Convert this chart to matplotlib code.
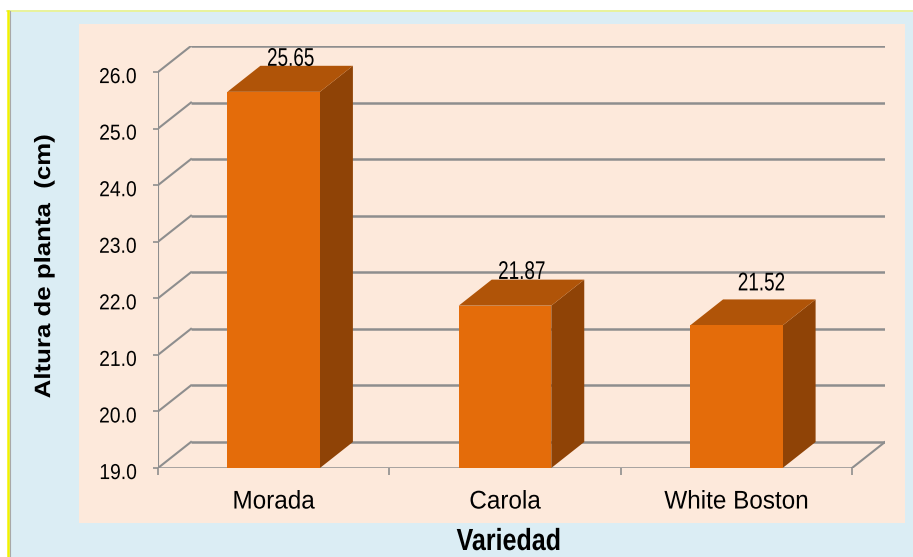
import matplotlib.pyplot as plt
from matplotlib.patches import Rectangle, Polygon
from matplotlib.lines import Line2D
from matplotlib.patheffects import AbstractPathEffect
from matplotlib.transforms import Affine2D, ScaledTranslation

variedades = ["Morada", "Carola", "White Boston"]
altura = [25.65, 21.87, 21.52]
yticks = [19, 20, 21, 22, 23, 24, 25, 26]

front = "#E46C0A"
top = "#B05408"
side = "#8F4306"
grid = "#8E8E8E"

plt.rcParams['font.family'] = ['Liberation Sans', 'DejaVu Sans']


class Squeeze(AbstractPathEffect):
    """Scale the glyph outlines about their own centre (narrow lettering)."""

    def __init__(self, sx=1.0, sy=1.0):
        super().__init__()
        self.sx, self.sy = sx, sy

    def draw_path(self, renderer, gc, tpath, affine, rgbFace=None):
        ext = tpath.get_extents()
        cx, cy = (ext.x0 + ext.x1) / 2, (ext.y0 + ext.y1) / 2
        t = Affine2D().translate(-cx, -cy).scale(self.sx, self.sy).translate(cx, cy) + affine
        renderer.draw_path(gc, tpath, t, rgbFace)


W, H = 913, 557
fig = plt.figure(figsize=(W / 100, H / 100), dpi=100)
fig.patch.set_facecolor("white")

# frame: blue background, peach panel, yellow edge lines
fig.add_artist(Rectangle((9 / W, 0), (W - 9) / W, 545 / H, transform=fig.transFigure,
                         facecolor="#DBEDF4", edgecolor="none", zorder=0))
fig.add_artist(Rectangle((79 / W, 34 / H), 826 / W, 499 / H, transform=fig.transFigure,
                         facecolor="#FDE9DB", edgecolor="none", zorder=0))
fig.add_artist(Line2D([7 / W, 1], [546 / H, 546 / H], transform=fig.transFigure,
                      color="#E4F08A", lw=1.2, zorder=1))
fig.add_artist(Line2D([7.5 / W, 7.5 / W], [0, 546 / H], transform=fig.transFigure,
                      color="#F2F200", lw=1.8, zorder=1))
fig.add_artist(Line2D([9.8 / W, 9.8 / W], [0, 546 / H], transform=fig.transFigure,
                      color="#A8A8A8", lw=0.8, zorder=1))

# 3d depth of the chart (data units)
dx = 0.1425
dy = 0.46
bw = 0.40

ax = fig.add_axes([158 / W, 89 / H, 727 / W, 422 / H])
ax.set_xlim(-0.5, len(variedades) - 0.5 + dx)
ax.set_ylim(yticks[0], yticks[-1] + dy)
ax.patch.set_visible(False)
for s in ax.spines.values():
    s.set_visible(False)

x0, x1 = -0.5, len(variedades) - 0.5

# back wall gridlines and left wall diagonals
for v in yticks:
    ax.plot([x0 + dx, x1 + dx], [v + dy, v + dy], color=grid, lw=1.8, zorder=1, solid_capstyle='butt')
    ax.plot([x0, x0 + dx], [v, v + dy], color=grid, lw=1.5, zorder=1)
# floor front edge and right edge, front vertical axis
ax.plot([x0, x1], [yticks[0], yticks[0]], color=grid, lw=1.8, zorder=1)
ax.plot([x1, x1 + dx], [yticks[0], yticks[0] + dy], color=grid, lw=1.5, zorder=1)
ax.plot([x0, x0], [yticks[0], yticks[-1]], color=grid, lw=1.5, zorder=1)

base = yticks[0]
label_offsets = [(12.2, 0), (12, 0.5), (18, 6.5)]
for i, v in enumerate(altura):
    l, r = i - bw / 2, i + bw / 2
    ax.add_patch(Polygon([(r, base), (r + dx, base + dy), (r + dx, v + dy), (r, v)],
                         closed=True, facecolor=side, edgecolor="none", zorder=3))
    ax.add_patch(Polygon([(l, v), (r, v), (r + dx, v + dy), (l + dx, v + dy)],
                         closed=True, facecolor=top, edgecolor="none", zorder=3))
    ax.add_patch(Rectangle((l, base), bw, v - base, facecolor=front, edgecolor="none", zorder=4))
    ox, oy = label_offsets[i]
    ax.annotate(f"{v:.2f}", (i, v + dy), xytext=(ox, oy), textcoords="offset points",
                ha="center", va="baseline", fontsize=18.4, zorder=5,
                path_effects=[Squeeze(0.74)])

ax.set_yticks(yticks)
ax.set_yticklabels([f"{t:.1f}" for t in yticks])
ax.tick_params(axis="y", length=3.6, width=1.2, color=grid, pad=10, labelsize=15.6)
shift = ScaledTranslation(0, -2.2 / 72, fig.dpi_scale_trans)
for lab in ax.get_yticklabels():
    lab.set_transform(lab.get_transform() + shift)
    lab.set_path_effects([Squeeze(0.89)])

ax.set_xticks(range(len(variedades)))
ax.set_xticklabels(variedades)
ax.tick_params(axis="x", length=0, pad=15.5, labelsize=18.4)
for lab in ax.get_xticklabels():
    lab.set_path_effects([Squeeze(0.95)])
ax.set_xticks([x0 + k for k in range(len(variedades) + 1)], minor=True)
ax.tick_params(axis="x", which="minor", length=5, width=1.2, color=grid, direction="out")

fig.text(44 / W, 1 - 266 / H, "Altura de planta  (cm)", rotation=90, ha="center", va="center",
         fontsize=18.6, fontweight="bold", path_effects=[Squeeze(1.0, 0.86)])
fig.text(509 / W, 7 / H, "Variedad", ha="center", va="baseline", fontsize=22,
         fontweight="bold", path_effects=[Squeeze(0.82)])

fig.savefig("out.png", dpi=100)
